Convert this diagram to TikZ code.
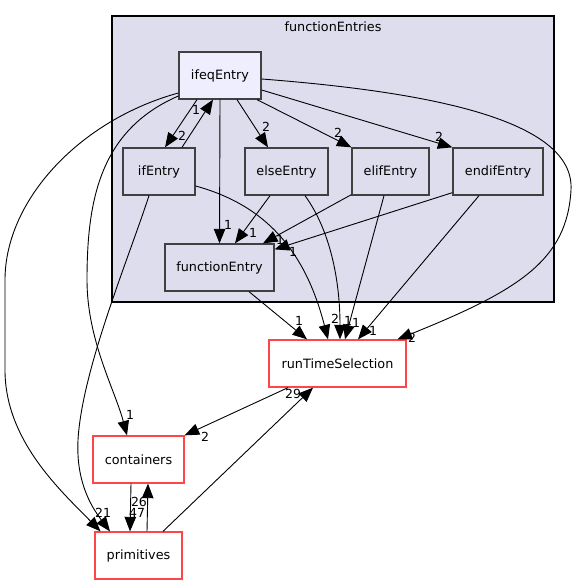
\documentclass[tikz,border=0pt]{standalone}
\usepackage{fontspec}
\setmainfont{DejaVu Sans}
\usetikzlibrary{arrows.meta}
\definecolor{clusterfill}{HTML}{DDDDEE}
\definecolor{ifeqfill}{HTML}{EEEEFF}
\definecolor{boxline}{HTML}{404040}
\definecolor{extline}{HTML}{FF4545}
\tikzset{dirbox/.style={draw=boxline, line width=1.3pt, fill=clusterfill, minimum height=47pt, inner sep=0pt, font=\fontsize{12.8}{15}\selectfont},
         extbox/.style={draw=extline, line width=1.3pt, fill=white, minimum height=47pt, inner sep=0pt, font=\fontsize{12.8}{15}\selectfont},
         dep/.style={draw=black, line width=0.9pt, arrows={-Triangle[length=14.5pt 0 0, width=11.5pt 0 0]}},
         cnt/.style={font=\fontsize{12.5}{14}\selectfont, inner sep=0pt}}

\begin{document}
\begin{tikzpicture}[x=1pt,y=-1pt]
   \useasboundingbox (0,0) rectangle (577,585);
   \begin{scope}
    \draw[fill=clusterfill, draw=black, line width=1.1pt] (112,16) rectangle (554,302);
    \node[font=\fontsize{12.8}{15}\selectfont] (clustername) at (333,27) {functionEntries};
    \node[dirbox, fill=ifeqfill, minimum width=82pt] (ifeq) at (220,75.5) {ifeqEntry};
    \node[dirbox, minimum width=72pt] (ifE) at (159,171.5) {ifEntry};
    \node[dirbox, minimum width=83pt] (elseE) at (286.5,171.5) {elseEntry};
    \node[dirbox, minimum width=77pt] (elifE) at (390.5,171.5) {elifEntry};
    \node[dirbox, minimum width=90pt] (endifE) at (498,171.5) {endifEntry};
    \node[dirbox, minimum width=109pt] (funcE) at (219.5,267.5) {functionEntry};
   \end{scope}
   \begin{scope}
    \node[extbox, minimum width=137pt] (rts) at (337.5,363.5) {runTimeSelection};
    \node[extbox, minimum width=91pt] (cont) at (138.5,459.5) {containers};
    \node[extbox, minimum width=87pt] (prim) at (138.5,555.5) {primitives};
   \end{scope}
   \begin{scope}
    \draw[dep] ([xshift=-23pt]ifeq.south) -- ([xshift=6pt]ifE.north) node[cnt] at (182,136) {2};
    \draw[dep] ([xshift=23pt]ifE.north) -- ([xshift=-7pt]ifeq.south) node[cnt] at (196,110) {1};
    \draw[dep] (ifeq.south) -- (funcE.north) node[cnt] at (228,225) {1};
    \draw[dep] ([xshift=17pt]ifeq.south) -- ([xshift=-18.5pt]elseE.north) node[cnt] at (266,127) {2};
    \draw[dep] ([xshift=37pt]ifeq.south) -- (elifE.north west) node[cnt] at (338,133) {2};
    \draw[dep] ([yshift=-14.5pt]ifeq.east) -- (endifE.north west) node[cnt] at (439,137) {2};
    \draw[dep] ([yshift=-3.5pt]ifeq.east) .. controls (430,92) and (575,120) .. (571,190)
               .. controls (567,260) and (520,290) .. ([xshift=60pt]rts.north) node[cnt] at (412,338) {2};
    \draw[dep] ([yshift=-20.5pt]ifeq.west) .. controls (100,130) and (87,200) .. (87,280)
               .. controls (87,340) and (115,390) .. ([xshift=-11.5pt]cont.north) node[cnt] at (130,415) {1};
    \draw[dep] ([yshift=-17.5pt]ifeq.west) .. controls (80,120) and (5,200) .. (5,280) -- (5,370)
               .. controls (5,440) and (60,490) .. ([xshift=-38pt]prim.north) node[cnt] at (99,513) {2};
    \draw[dep] ([xshift=-10pt]ifE.south) .. controls (128,260) and (82,370) .. (78,440)
               .. controls (76,480) and (90,505) .. ([xshift=-28.5pt]prim.north) node[cnt] at (107,513) {1};
    \draw[dep] ([yshift=-14.5pt]ifE.east) .. controls (265,205) and (305,250) .. ([xshift=-9.5pt]rts.north) node[cnt] at (335,319) {2};
    \draw[dep] ([xshift=-16.5pt]elseE.south) -- ([xshift=15.5pt]funcE.north) node[cnt] at (253,233) {1};
    \draw[dep] ([yshift=1pt]elifE.south west) -- ([xshift=43.5pt]funcE.north) node[cnt] at (280,240) {1};
    \draw[dep] ([yshift=3pt]endifE.south west) -- ([yshift=-6pt]funcE.north east) node[cnt] at (293,252) {1};
    \draw[dep] ([xshift=18.5pt]elseE.south) .. controls (330,230) and (340,280) .. ([xshift=2.5pt]rts.north) node[cnt] at (348,321) {1};
    \draw[dep] ([xshift=-6.5pt]elifE.south) -- ([xshift=7.5pt]rts.north) node[cnt] at (356,323) {1};
    \draw[dep] ([xshift=-19pt]endifE.south) -- ([xshift=20.5pt]rts.north) node[cnt] at (373,331) {1};
    \draw[dep] ([xshift=29.5pt]funcE.south) -- ([xshift=-30.5pt]rts.north) node[cnt] at (299,321) {1};
    \draw[dep] ([xshift=-49.5pt]rts.south) -- (cont.north east) node[cnt] at (205,437) {2};
    \draw[dep] ([xshift=-7.5pt]cont.south) -- ([xshift=-8.5pt]prim.north) node[cnt] at (137,513) {47};
    \draw[dep] ([xshift=8.5pt]prim.north) -- ([xshift=9.5pt]cont.south) node[cnt] at (139,502) {26};
    \draw[dep] ([xshift=24.5pt]prim.north) -- ([xshift=-24.5pt]rts.south) node[cnt] at (293,394) {29};
   \end{scope}
  \end{tikzpicture}
\end{document}
